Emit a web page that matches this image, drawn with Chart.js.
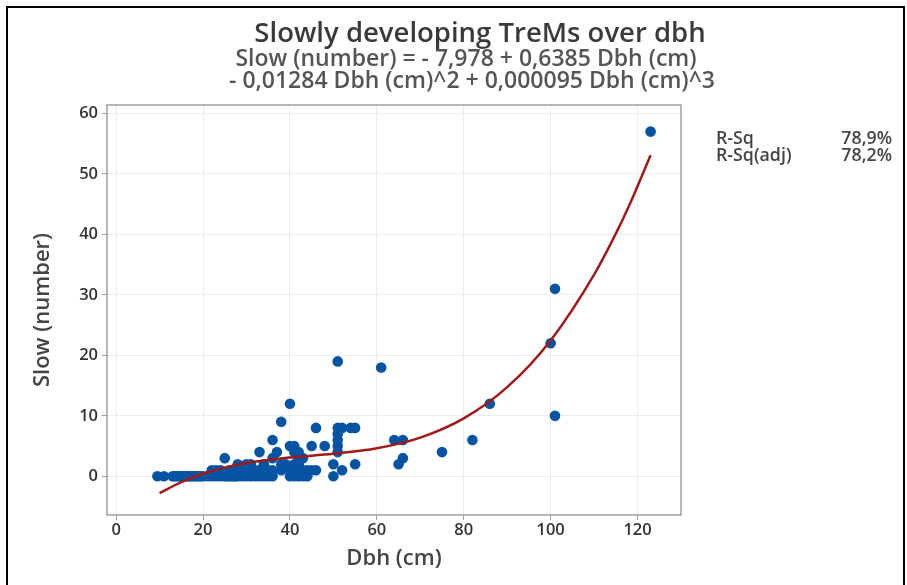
<!DOCTYPE html>
<html>
<head>
<meta charset="utf-8">
<script src="https://cdn.jsdelivr.net/npm/chart.js@4.4.1/dist/chart.umd.min.js"></script>
<style>
  html, body { margin: 0; padding: 0; background: #fff; width: 907px; height: 585px; overflow: hidden; }
  #frame { position: absolute; left: 6px; top: 6px; width: 895px; height: 700px; border: 2px solid #000; }
  #c { position: absolute; left: 0; top: 0; }
  .t { position: absolute; font-family: "Open Sans", sans-serif; font-weight: 600; white-space: nowrap; }
  #title { left: 480px; top: 17px; line-height: 30px; transform: translateX(-50%); font-size: 27.5px; color: #3a3a3a; }
  #sub1 { left: 466px; top: 46px; line-height: 22px; transform: translateX(-50%); font-size: 23px; color: #555; }
  #sub2 { left: 472px; top: 68px; line-height: 22px; transform: translateX(-50%); font-size: 23px; color: #555; }
  .rs { position: absolute; font-family: "Open Sans", sans-serif; font-weight: 600; font-size: 17.8px; line-height: 17px; color: #444; }
</style>
</head>
<body>
<div id="frame"></div>
<canvas id="c" width="907" height="585"></canvas>
<div class="t" id="title">Slowly developing TreMs over dbh</div>
<div class="t" id="sub1">Slow (number) = - 7,978 + 0,6385 Dbh (cm)</div>
<div class="t" id="sub2">- 0,01284 Dbh (cm)^2 + 0,000095 Dbh (cm)^3</div>
<div class="rs" style="left:716px; top:129px;">R-Sq</div>
<div class="rs" style="right:15px; top:129px;">78,9%</div>
<div class="rs" style="left:716px; top:146px;">R-Sq(adj)</div>
<div class="rs" style="right:15px; top:146px;">78,2%</div>
<script>
// Observed points (Dbh in cm, Slow count)
const dbhValues = [
  9.5, 11, 13, 13.5, 14, 14.5, 15, 15.5, 16, 16.5, 17, 17.5, 18, 18.5, 19, 19.5, 20, 21, 22, 23, 24, 25, 25.5, 26, 26.5, 27, 27.5, 28, 29, 30, 31, 32, 33, 34, 35, 36, 40, 41, 42, 43, 44, 50,
  22, 23, 24, 26, 27, 28, 29, 30, 31, 32, 33, 34, 35, 36, 38, 40, 41, 43, 44, 45, 46, 52,
  28, 30, 31, 34, 38, 39, 41, 42, 50, 55, 65,
  25, 36, 42, 43, 66,
  33, 37, 41, 42, 51, 75,
  40, 41, 45, 48, 51,
  36, 51, 64, 66, 82,
  51,
  46, 51, 52, 54, 55,
  38,
  101,
  40, 86,
  61,
  51,
  100,
  101,
  123
];
const slowValues = [
  0,0,0,0,0,0,0,0,0,0,0,0,0,0,0,0,0,0,0,0,0,0,0,0,0,0,0,0,0,0,0,0,0,0,0,0,0,0,0,0,0,0,
  1,1,1,1,1,1,1,1,1,1,1,1,1,1,1,1,1,1,1,1,1,1,
  2,2,2,2,2,2,2,2,2,2,2,
  3,3,3,3,3,
  4,4,4,4,4,4,
  5,5,5,5,5,
  6,6,6,6,6,
  7,
  8,8,8,8,8,
  9,
  10,
  12,12,
  18,
  19,
  22,
  31,
  57
];
// Fitted cubic curve
const fitDbh  = [10, 15, 20, 25, 30, 40, 50, 60, 70, 80, 90, 100, 110, 115, 118, 123];
const fitSlow = [-2.78, -0.97, 0.42, 1.44, 2.19, 3.10, 3.72, 4.63, 6.39, 9.57, 14.74, 22.47, 33.34, 40.12, 44.66, 53.08];
// Axis ticks
const xTicks = [0, 20, 40, 60, 80, 100, 120];
const yTicks = [0, 10, 20, 30, 40, 50, 60];

const points = dbhValues.map((x, i) => ({ x: x, y: slowValues[i] }));
const fit = fitDbh.map((x, i) => ({ x: x, y: fitSlow[i] }));

const frameBox = {
  id: 'frameBox',
  afterDraw(chart) {
    const a = chart.chartArea, ctx = chart.ctx;
    ctx.save();
    ctx.strokeStyle = '#a0a0a0';
    ctx.lineWidth = 1.5;
    ctx.strokeRect(a.left, a.top, a.right - a.left, a.bottom - a.top);
    ctx.restore();
  }
};

const tickFont = { family: '"Open Sans", sans-serif', size: 16.5, weight: '600' };
const titleFont = { family: '"Open Sans", sans-serif', size: 22, weight: '600' };

new Chart(document.getElementById('c'), {
  type: 'scatter',
  data: {
    datasets: [
      {
        type: 'line',
        data: fit,
        borderColor: '#a01a1a',
        borderWidth: 2.5,
        pointRadius: 0,
        fill: false,
        cubicInterpolationMode: 'monotone'
      },
      {
        data: points,
        backgroundColor: '#0554a4',
        borderWidth: 0,
        pointRadius: 5.3,
        pointHoverRadius: 5.3
      }
    ]
  },
  options: {
    responsive: false,
    animation: false,
    events: [],
    layout: { padding: { left: 7, right: 226, top: 105, bottom: 10 } },
    plugins: { legend: { display: false }, tooltip: { enabled: false } },
    scales: {
      x: {
        type: 'linear',
        min: -2.1,
        max: 130,
        afterBuildTicks: s => { s.ticks = xTicks.map(v => ({ value: v })); },
        afterFit: s => { s.height = 60; },
        ticks: { font: tickFont, color: '#333', padding: 0 },
        grid: { color: '#ececec', tickColor: '#999', tickLength: 5, drawOnChartArea: true },
        border: { display: false },
        title: { display: true, text: 'Dbh (cm)', font: titleFont, color: '#444', padding: { top: 0, bottom: 3 } }
      },
      y: {
        type: 'linear',
        min: -6.4,
        max: 61.4,
        afterBuildTicks: s => { s.ticks = yTicks.map(v => ({ value: v })); },
        afterFit: s => { s.width = 100; },
        ticks: { font: tickFont, color: '#333', padding: 4 },
        grid: { color: '#ececec', tickColor: '#999', tickLength: 5 },
        border: { display: false },
        title: { display: true, text: 'Slow (number)', font: titleFont, color: '#444', padding: { top: 23, bottom: 0 } }
      }
    }
  },
  plugins: [frameBox]
});
</script>
</body>
</html>
